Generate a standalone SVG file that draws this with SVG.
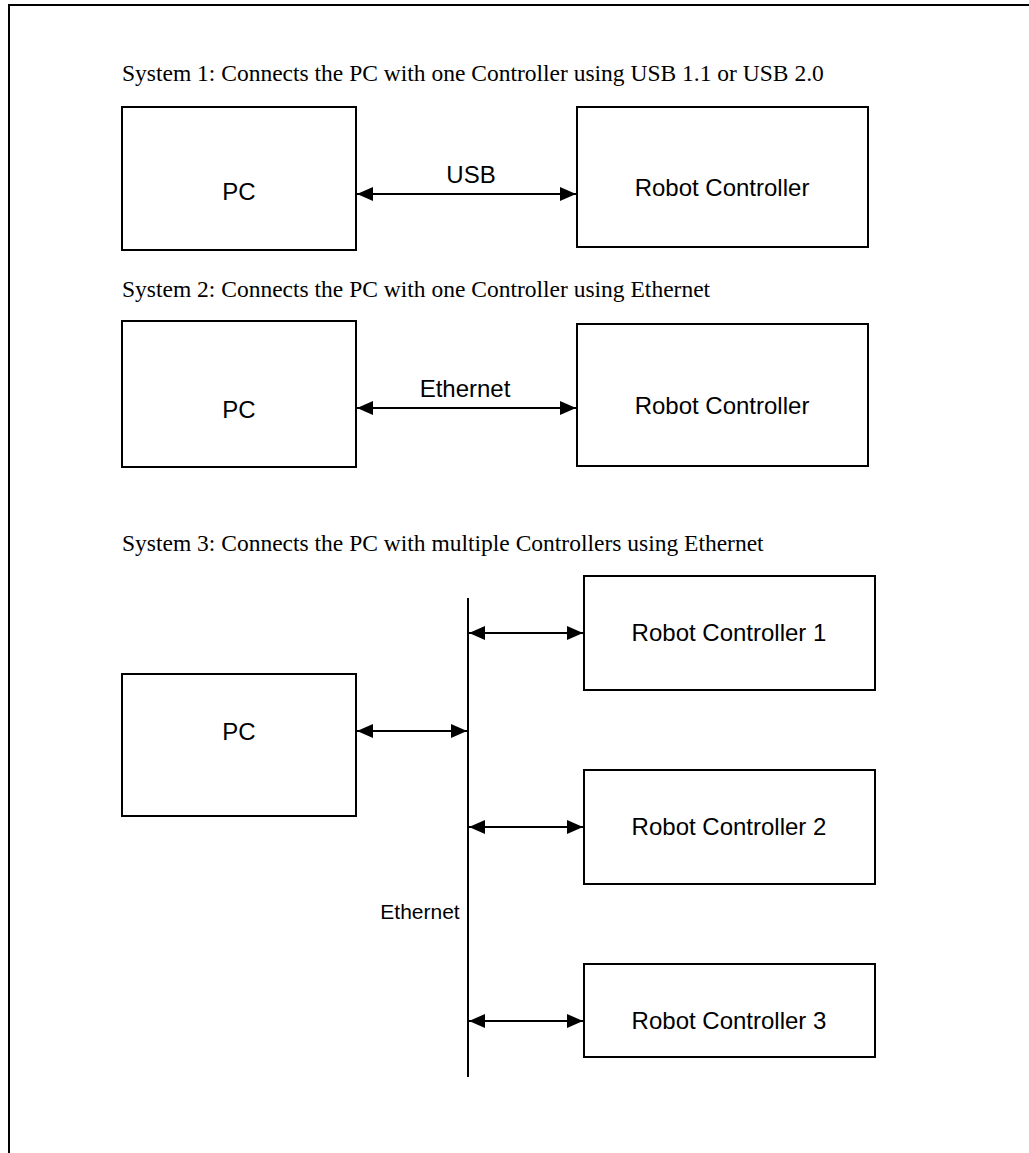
<svg xmlns="http://www.w3.org/2000/svg" width="1029" height="1153" viewBox="0 0 1029 1153">
<style>
.box{fill:#fff;stroke:#000;stroke-width:2}
.lbl{font-family:"Liberation Sans",Arial,sans-serif;font-size:24px;fill:#000;text-anchor:middle}
.ttl{font-family:"Liberation Serif","Times New Roman",serif;font-size:23.5px;fill:#000}
.ln{stroke:#000;stroke-width:2;fill:none}
.arr{stroke:#000;stroke-width:2;fill:none;marker-start:url(#ah);marker-end:url(#ah)}
</style>
<defs>
<marker id="ah" viewBox="0 0 16 14" refX="16" refY="7" markerWidth="16" markerHeight="14" markerUnits="userSpaceOnUse" orient="auto-start-reverse">
<path d="M0,0 L16,7 L0,14 Z" fill="#000"/>
</marker>
</defs>
<rect width="1029" height="1153" fill="#fff"/>
<path class="ln" d="M9,1153 V5 H1029"/>
<text class="ttl" x="122" y="81">System 1: Connects the PC with one Controller using USB 1.1 or USB 2.0</text>
<text class="ttl" x="122" y="297">System 2: Connects the PC with one Controller using Ethernet</text>
<text class="ttl" x="122" y="551">System 3: Connects the PC with multiple Controllers using Ethernet</text>
<g id="s1-pc"><rect class="box" x="122" y="107" width="234" height="143"/><text class="lbl" x="239" y="200">PC</text></g>
<g id="s1-rc"><rect class="box" x="577" y="107" width="291" height="140"/><text class="lbl" x="722" y="196">Robot Controller</text></g>
<g id="s2-pc"><rect class="box" x="122" y="321" width="234" height="146"/><text class="lbl" x="239" y="418">PC</text></g>
<g id="s2-rc"><rect class="box" x="577" y="324" width="291" height="142"/><text class="lbl" x="722" y="414">Robot Controller</text></g>
<g id="s3-pc"><rect class="box" x="122" y="674" width="234" height="142"/><text class="lbl" x="239" y="740">PC</text></g>
<g id="s3-rc1"><rect class="box" x="584" y="576" width="291" height="114"/><text class="lbl" x="729" y="641">Robot Controller 1</text></g>
<g id="s3-rc2"><rect class="box" x="584" y="770" width="291" height="114"/><text class="lbl" x="729" y="835">Robot Controller 2</text></g>
<g id="s3-rc3"><rect class="box" x="584" y="964" width="291" height="93"/><text class="lbl" x="729" y="1029">Robot Controller 3</text></g>
<g id="connectors">
<line class="arr" x1="357" y1="194" x2="576" y2="194"/>
<text class="lbl" x="471" y="183">USB</text>
<line class="arr" x1="357" y1="408" x2="576" y2="408"/>
<text class="lbl" x="465" y="397">Ethernet</text>
<line class="ln" x1="468" y1="598" x2="468" y2="1077"/>
<line class="arr" x1="357" y1="731" x2="467" y2="731"/>
<line class="arr" x1="469" y1="633" x2="583" y2="633"/>
<line class="arr" x1="469" y1="827" x2="583" y2="827"/>
<line class="arr" x1="469" y1="1021" x2="583" y2="1021"/>
<text class="lbl" x="420" y="919" style="font-size:21px">Ethernet</text>
</g>
</svg>
